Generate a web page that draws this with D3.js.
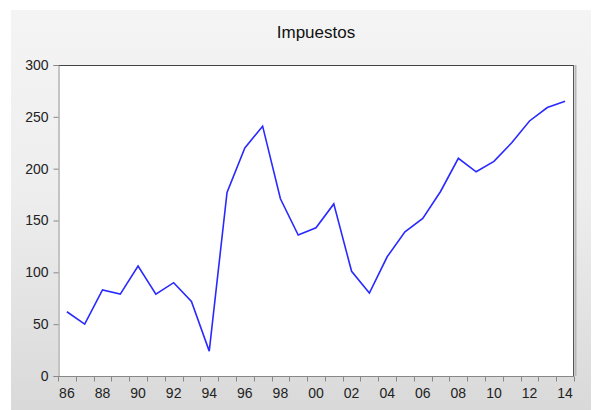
<!DOCTYPE html>
<html>
<head>
<meta charset="utf-8">
<script src="https://cdn.jsdelivr.net/npm/d3@7"></script>
<style>
  body { margin: 0; background: #fff; }
  svg { display: block; font-family: Arial, "Liberation Sans", sans-serif; }
</style>
</head>
<body>
<div class="container"></div>
<script>
  // data (taxes, yearly)
  var years = ["86","87","88","89","90","91","92","93","94","95","96","97","98","99",
               "00","01","02","03","04","05","06","07","08","09","10","11","12","13","14"];
  var impuestos = [62, 50, 83, 79, 106, 79, 90, 72, 24, 177, 220, 241, 171, 136,
                   143, 166, 101, 80, 115, 139, 152, 178, 210, 197, 207, 225, 246, 259, 265];
  var yTicks = [0, 50, 100, 150, 200, 250, 300];

  // frame attributes
  var w = 593;
  var h = 410;
  var margin = {top: 65, right: 19, bottom: 34, left: 58};

  var svg = d3.select(".container").append("svg").attr("width", w).attr("height", h);

  // background gradient
  var grad = svg.append("defs").append("linearGradient")
    .attr("id", "bg").attr("x1", 0).attr("y1", 0).attr("x2", 0).attr("y2", 1);
  grad.append("stop").attr("offset", "0%").attr("stop-color", "#f4f4f4");
  grad.append("stop").attr("offset", "45%").attr("stop-color", "#eeeeee");
  grad.append("stop").attr("offset", "100%").attr("stop-color", "#d9d9d9");

  svg.append("rect")
    .attr("x", 11).attr("y", 10)
    .attr("width", 580).attr("height", h - 10)
    .attr("fill", "url(#bg)");

  var x = d3.scaleBand()
    .domain(years)
    .range([margin.left, w - margin.right])
    .padding(0);

  var y = d3.scaleLinear()
    .domain([0, 300])
    .range([h - margin.bottom, margin.top]);

  var x0 = margin.left, x1 = w - margin.right;
  var y0 = h - margin.bottom, y1 = margin.top;

  // plot area
  svg.append("rect")
    .attr("x", x0).attr("y", y1)
    .attr("width", x1 - x0).attr("height", y0 - y1)
    .attr("fill", "#fff");

  // right shadow + frame
  svg.append("line")
    .attr("x1", x1 + 1.5).attr("x2", x1 + 1.5).attr("y1", y1).attr("y2", y0)
    .attr("stroke", "#b8b8b8").attr("stroke-width", 2);
  svg.append("line")
    .attr("x1", x0).attr("x2", x1).attr("y1", y1 + 0.5).attr("y2", y1 + 0.5)
    .attr("stroke", "#444").attr("stroke-width", 1);
  svg.append("line")
    .attr("x1", x1 - 0.5).attr("x2", x1 - 0.5).attr("y1", y1).attr("y2", y0)
    .attr("stroke", "#555").attr("stroke-width", 1);

  // y axis
  var yAxis = d3.axisLeft(y).tickValues(yTicks).tickSize(5).tickPadding(5);
  var gy = svg.append("g")
    .attr("transform", "translate(" + (x0 + 0.5) + ",0)")
    .call(yAxis);

  // x axis: ticks at band edges, labels on even years
  var gx = svg.append("g").attr("transform", "translate(0," + (y0 + 0.5) + ")");
  gx.append("line")
    .attr("x1", x0).attr("x2", x1)
    .attr("stroke", "#888");
  var edges = years.map(function(d) { return x(d); }).concat([x1]);
  gx.selectAll(".tk").data(edges).enter().append("line")
    .attr("class", "tk")
    .attr("x1", function(d) { return Math.round(d) + 0.5; })
    .attr("x2", function(d) { return Math.round(d) + 0.5; })
    .attr("y1", 0).attr("y2", 5)
    .attr("stroke", "#888");
  gx.selectAll(".lb").data(years.filter(function(d, i) { return i % 2 == 0; })).enter().append("text")
    .attr("class", "lb")
    .attr("x", function(d) { return x(d) + x.bandwidth() / 2; })
    .attr("y", 21)
    .attr("text-anchor", "middle")
    .attr("font-size", 14)
    .attr("fill", "#222")
    .text(function(d) { return d; });

  gy.select(".domain").attr("stroke", "#888");
  gy.selectAll(".tick line").attr("stroke", "#888");
  gy.selectAll(".tick text").attr("font-size", 14).attr("fill", "#222")
    .attr("font-family", "Arial, 'Liberation Sans', sans-serif");

  // line
  var line = d3.line()
    .x(function(d, i) { return x(years[i]) + x.bandwidth() / 2; })
    .y(function(d) { return y(d); });

  svg.append("path")
    .datum(impuestos)
    .attr("d", line)
    .attr("fill", "none")
    .attr("stroke", "#2a2aff")
    .attr("stroke-width", 1.6)
    .attr("stroke-linejoin", "miter");

  // title
  svg.append("text")
    .attr("x", (x0 + x1) / 2)
    .attr("y", 38)
    .attr("text-anchor", "middle")
    .attr("font-size", 17)
    .attr("fill", "#111")
    .text("Impuestos");
</script>
</body>
</html>
